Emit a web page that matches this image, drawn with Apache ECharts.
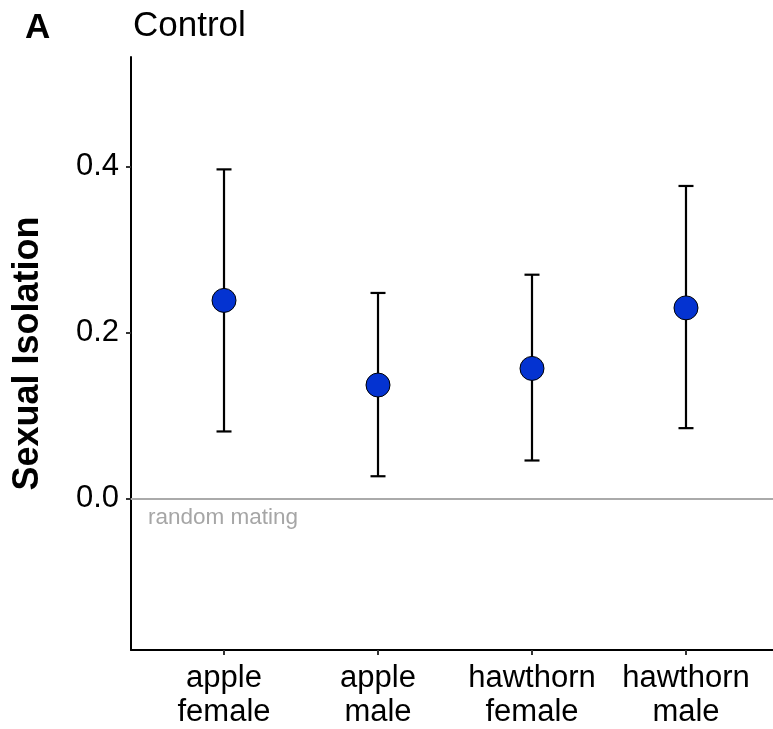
<!DOCTYPE html>
<html><head><meta charset="utf-8">
<script src="https://cdn.jsdelivr.net/npm/echarts@6/dist/echarts.min.js"></script>
<style>html,body{margin:0;padding:0;background:#fff}#c{width:773px;height:729px}</style>
</head><body><div id="c"></div>
<script>
const categories = ["apple\nfemale", "apple\nmale", "hawthorn\nfemale", "hawthorn\nmale"];
const means = [0.239, 0.137, 0.157, 0.230];
const lower = [0.081, 0.027, 0.046, 0.085];
const upper = [0.397, 0.248, 0.270, 0.377];
const yTicks = [0.0, 0.2, 0.4];

const chart = echarts.init(document.getElementById('c'));
const errData = categories.map((c, i) => [i + 1, lower[i], upper[i]]);
const ptData = categories.map((c, i) => [i + 1, means[i]]);
const FF = 'Liberation Sans, Arial';

chart.setOption({
  animation: false,
  grid: {left: 131, right: 0, top: 57, bottom: 79, containLabel: false},
  title: [
    {text: 'A', left: 20, top: 6, textStyle: {fontFamily: FF, fontWeight: 'bold', fontSize: 35, color: '#000'}},
    {text: 'Control', left: 128, top: 4, textStyle: {fontFamily: FF, fontWeight: 'normal', fontSize: 35, color: '#000'}}
  ],
  xAxis: {
    type: 'value', min: 0.396, max: 4.565,
    splitLine: {show: false},
    axisLine: {onZero: false, lineStyle: {color: '#000', width: 2}},
    axisTick: {length: 5, lineStyle: {color: '#333', width: 2},
      customValues: categories.map((c, i) => i + 1)},
    axisLabel: {
      customValues: categories.map((c, i) => i + 1),
      formatter: v => categories[Math.round(v) - 1] || '',
      fontFamily: FF, fontSize: 31, color: '#000', lineHeight: 34, margin: 11
    }
  },
  yAxis: {
    type: 'value', min: -0.1825, max: 0.5325,
    name: 'Sexual Isolation', nameLocation: 'middle', nameGap: 85,
    nameTextStyle: {fontFamily: FF, fontWeight: 'bold', fontSize: 36, color: '#000'},
    splitLine: {show: false},
    axisLine: {onZero: false, lineStyle: {color: '#000', width: 2}},
    axisTick: {length: 5, lineStyle: {color: '#333', width: 2}, customValues: yTicks},
    axisLabel: {customValues: yTicks, formatter: v => v.toFixed(1),
      fontFamily: FF, fontSize: 31, color: '#000', margin: 12}
  },
  series: [
    {
      type: 'line', data: [], silent: true,
      markLine: {
        symbol: 'none', silent: true,
        lineStyle: {color: '#aaaaaa', width: 2, type: 'solid'},
        label: {show: false},
        data: [{yAxis: 0}]
      }
    },
    {
      type: 'custom', data: errData, z: 3,
      renderItem: (params, api) => {
        const x = api.value(0);
        const lo = api.coord([x, api.value(1)]);
        const hi = api.coord([x, api.value(2)]);
        const hw = 7.5;
        const st = {stroke: '#000', lineWidth: 2.2};
        return {type: 'group', children: [
          {type: 'line', shape: {x1: lo[0], y1: lo[1], x2: hi[0], y2: hi[1]}, style: st},
          {type: 'line', shape: {x1: lo[0] - hw, y1: lo[1], x2: lo[0] + hw, y2: lo[1]}, style: st},
          {type: 'line', shape: {x1: hi[0] - hw, y1: hi[1], x2: hi[0] + hw, y2: hi[1]}, style: st}
        ]};
      }
    },
    {
      type: 'scatter', data: ptData, symbolSize: 24, z: 5,
      itemStyle: {color: '#0433d1', opacity: 1, borderColor: '#000', borderWidth: 1}
    }
  ],
  graphic: [{
    type: 'text', left: 148, top: 506,
    style: {text: 'random mating', fontFamily: FF, fontSize: 22.5, fill: '#a6a6a6'}
  }]
});
</script></body></html>
